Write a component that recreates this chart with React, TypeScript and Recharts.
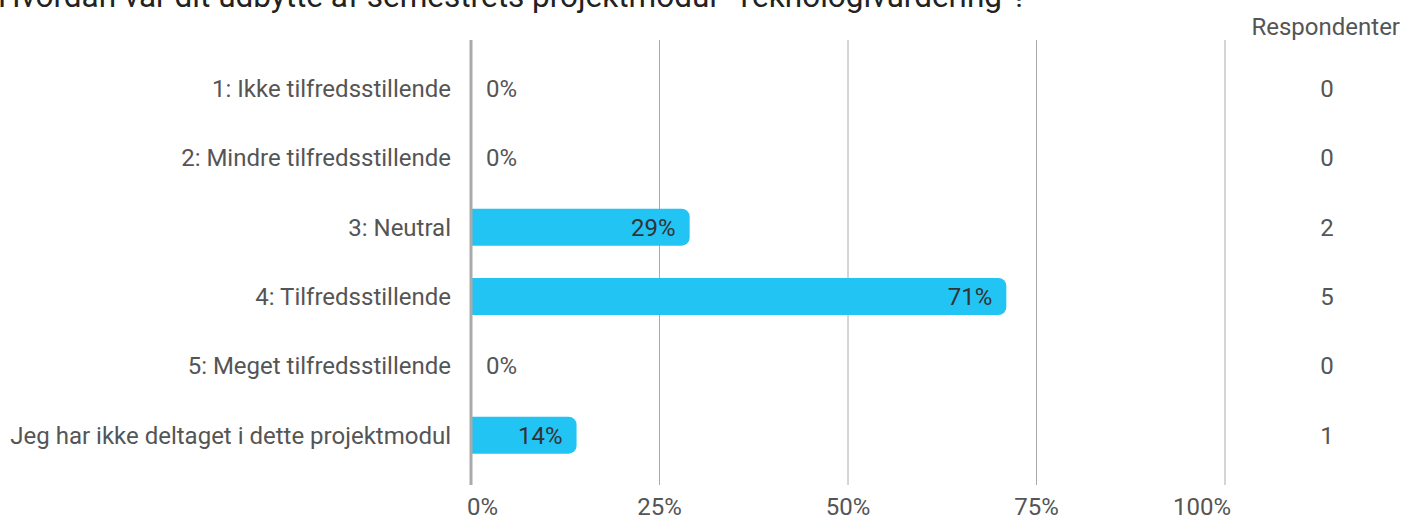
import React from 'react';
import { BarChart, Bar, XAxis, YAxis, CartesianGrid, LabelList } from 'recharts';

const title = 'Hvordan var dit udbytte af semestrets projektmodul "Teknologivurdering"?';

const categories = [
  '1: Ikke tilfredsstillende',
  '2: Mindre tilfredsstillende',
  '3: Neutral',
  '4: Tilfredsstillende',
  '5: Meget tilfredsstillende',
  'Jeg har ikke deltaget i dette projektmodul',
];
const percentages = [0, 0, 29, 71, 0, 14];
const respondents = [0, 0, 2, 5, 0, 1];
const xTicks = [0, 25, 50, 75, 100];

const data = categories.map((category, i) => ({
  category,
  pct: percentages[i],
  count: respondents[i],
}));

const FONT = 'Roboto, sans-serif';
const TEXT = '#555';
const BAR = '#22C4F4';

const XTick = (props: any) => {
  const { x, y, payload, index } = props;
  let anchor: 'start' | 'middle' | 'end' = 'middle';
  let dx = 0;
  if (index === 0) {
    anchor = 'start';
    dx = -4;
  } else if (index === xTicks.length - 1) {
    anchor = 'end';
    dx = 6;
  }
  return (
    <text x={x + dx} y={y + 22} textAnchor={anchor} fontFamily={FONT} fontSize={24} fill={TEXT}>
      {payload.value}%
    </text>
  );
};

// category name left of the axis; empty categories get their "0%" right of it
const CategoryTick = (props: any) => {
  const { x, y, payload, index } = props;
  return (
    <g>
      <text x={x} y={y} dy="0.35em" textAnchor="end" fontFamily={FONT} fontSize={24} fill={TEXT}>
        {payload.value}
      </text>
      {percentages[index] === 0 && (
        <text x={x + 35} y={y} dy="0.35em" textAnchor="start" fontFamily={FONT} fontSize={24} fill={TEXT}>
          0%
        </text>
      )}
    </g>
  );
};

const CountTick = (props: any) => {
  const { x, y, index } = props;
  return (
    <text x={x + 102} y={y} dy="0.35em" textAnchor="middle" fontFamily={FONT} fontSize={24} fill={TEXT}>
      {respondents[index]}
    </text>
  );
};

const PctLabel = (props: any) => {
  const { x, y, width, height, value } = props;
  if (!value) return null;
  return (
    <text x={x + width - 14} y={y + height / 2} dy="0.35em" textAnchor="end" fontFamily={FONT} fontSize={24} fill="#333">
      {value}%
    </text>
  );
};

export default function App() {
  return (
    <div style={{ position: 'absolute', left: 0, top: 0, width: 1404, height: 518, background: '#fff', overflow: 'hidden' }}>
      <BarChart
        width={1404}
        height={518}
        data={data}
        layout="vertical"
        margin={{ top: 40, right: 0, bottom: 0, left: 0 }}
      >
        <CartesianGrid horizontal={false} stroke="#aaa" />
        <XAxis
          type="number"
          domain={[0, 100]}
          ticks={xTicks}
          axisLine={false}
          tickLine={false}
          height={33}
          tick={<XTick />}
          interval={0}
        />
        <YAxis
          yAxisId="left"
          type="category"
          dataKey="category"
          width={471}
          padding={{ top: 14, bottom: 15 }}
          axisLine={{ stroke: '#aaa', strokeWidth: 3 }}
          tickLine={false}
          tickSize={0}
          tickMargin={20}
          tick={<CategoryTick />}
          interval={0}
        />
        <YAxis
          yAxisId="right"
          orientation="right"
          type="category"
          dataKey="category"
          width={179}
          padding={{ top: 14, bottom: 15 }}
          axisLine={false}
          tickLine={false}
          tickSize={0}
          tickMargin={0}
          tick={<CountTick />}
          interval={0}
        />
        <Bar
          yAxisId="left"
          dataKey="pct"
          fill={BAR}
          barSize={37}
          radius={[0, 8, 8, 0]}
          isAnimationActive={false}
        >
          <LabelList dataKey="pct" content={<PctLabel />} />
        </Bar>
      </BarChart>
      <svg width={1404} height={518} style={{ position: 'absolute', left: 0, top: 0, pointerEvents: 'none' }}>
        <text x={-2} y={7} fontFamily={FONT} fontSize={31.5} fill="#222">
          {title}
        </text>
        <text x={1400} y={35} textAnchor="end" fontFamily={FONT} fontSize={24} fill={TEXT}>
          Respondenter
        </text>
      </svg>
    </div>
  );
}
